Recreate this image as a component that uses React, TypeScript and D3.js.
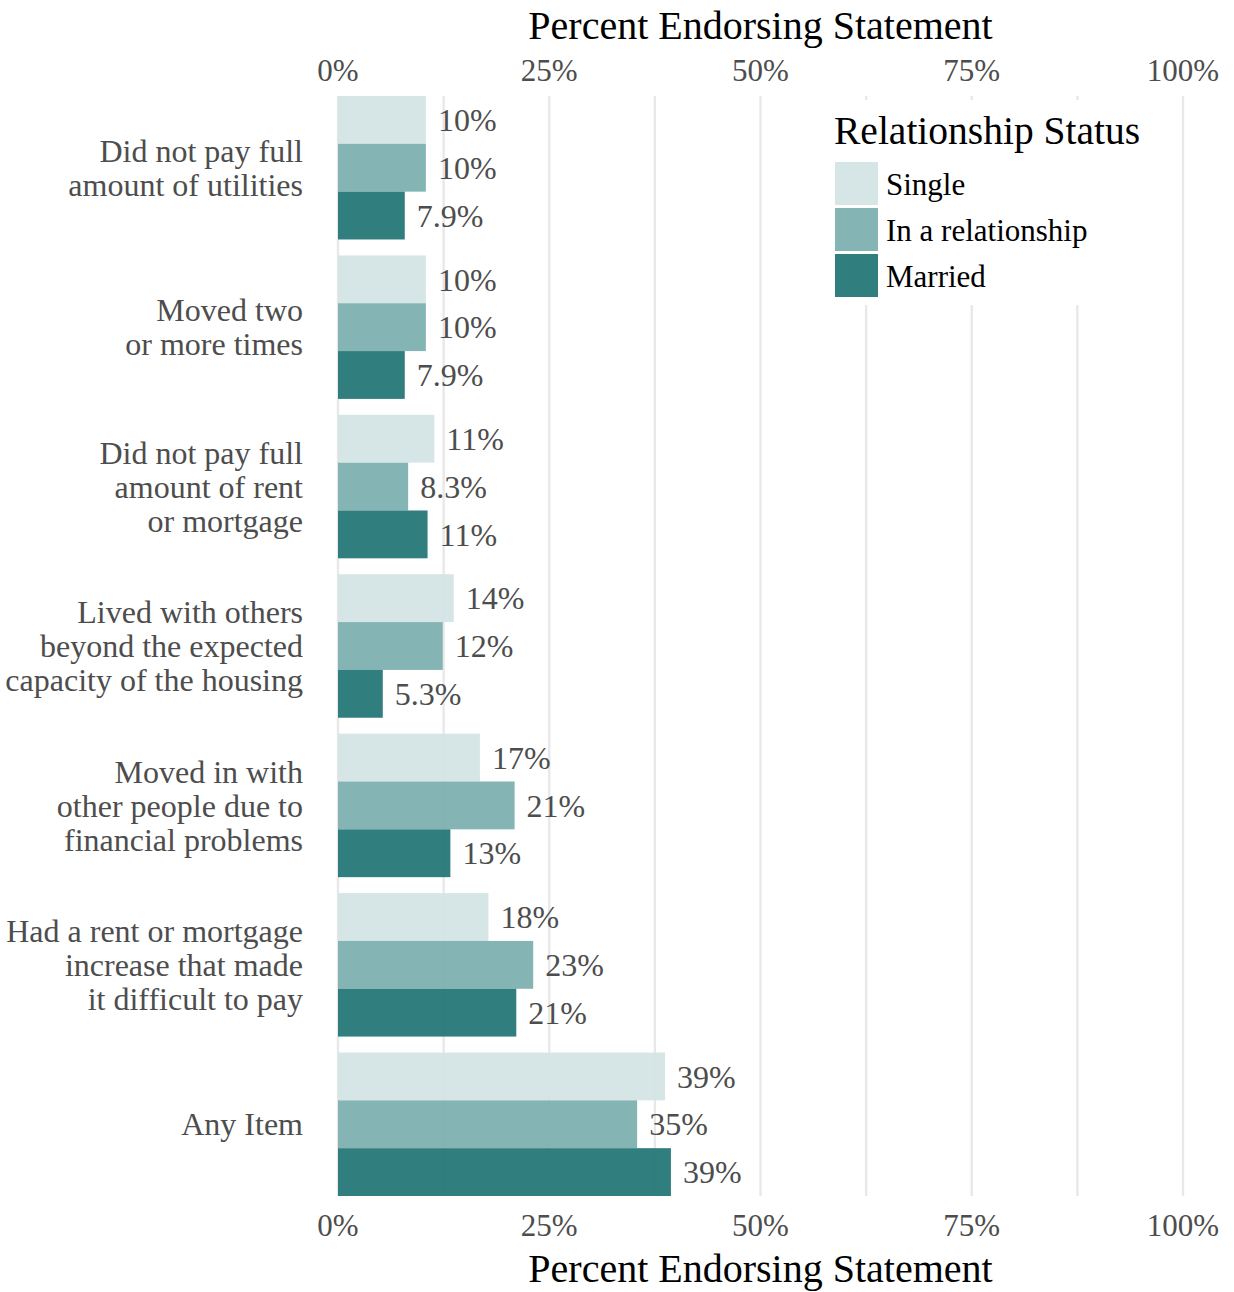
import React from "react";
import * as d3 from "d3";

const categories: string[][] = [
  ["Did not pay full", "amount of utilities"],
  ["Moved two", "or more times"],
  ["Did not pay full", "amount of rent", "or mortgage"],
  ["Lived with others", "beyond the expected", "capacity of the housing"],
  ["Moved in with", "other people due to", "financial problems"],
  ["Had a rent or mortgage", "increase that made", "it difficult to pay"],
  ["Any Item"],
];
const seriesNames = ["Single", "In a relationship", "Married"];
const singleValues = [10.4, 10.4, 11.4, 13.7, 16.8, 17.8, 38.7];
const relationshipValues = [10.4, 10.4, 8.3, 12.4, 20.9, 23.1, 35.4];
const marriedValues = [7.9, 7.9, 10.6, 5.3, 13.3, 21.1, 39.4];
const seriesValues = [singleValues, relationshipValues, marriedValues];
const colors = ["#d3e4e4", "#7aaeae", "#1f7374"];
const xTicks = [0, 25, 50, 75, 100];
const gridValues = [0, 12.5, 25, 37.5, 50, 62.5, 75, 87.5, 100];

const W = 1234;
const H = 1292;
const FONT = "'Liberation Serif', 'Times New Roman', serif";

export default function App() {
  const x = d3.scaleLinear().domain([0, 100]).range([338, 1183]);
  const y = d3
    .scaleBand<number>()
    .domain(d3.range(categories.length))
    .range([96, 1196])
    .paddingInner(0.1)
    .paddingOuter(0);
  const sub = d3
    .scaleBand<number>()
    .domain([0, 1, 2])
    .range([0, y.bandwidth()]);
  const fmt = (v: number) => d3.format(".2r")(v).replace(/\.0$/, "") + "%";
  const fmtTick = (v: number) => v + "%";
  const top = 96;
  const bottom = 1196;
  const lineH = 34;

  return (
    <svg width={W} height={H} style={{ display: "block", position: "absolute", left: 0, top: 0 }} fontFamily={FONT}>
      <rect x={0} y={0} width={W} height={H} fill="#ffffff" />
      {gridValues.map((g) => (
        <line key={g} x1={x(g)} x2={x(g)} y1={top} y2={bottom} stroke="#e8e8e8" strokeWidth={2.4} />
      ))}
      {categories.map((c, i) =>
        seriesValues.map((vals, s) => (
          <rect
            key={`${i}-${s}`}
            x={x(0)}
            y={(y(i) as number) + (sub(s) as number)}
            width={x(vals[i]) - x(0)}
            height={sub.bandwidth()}
            fill={colors[s]}
            fillOpacity={0.92}
          />
        ))
      )}
      {categories.map((c, i) =>
        seriesValues.map((vals, s) => (
          <text
            key={`l-${i}-${s}`}
            x={x(vals[i]) + 12}
            y={(y(i) as number) + (sub(s) as number) + sub.bandwidth() / 2}
            dy="0.35em"
            fontSize={32}
            fill="#4d4d4d"
          >
            {fmt(vals[i])}
          </text>
        ))
      )}
      {categories.map((lines, i) => {
        const cy = (y(i) as number) + y.bandwidth() / 2;
        const start = cy - ((lines.length - 1) * lineH) / 2;
        return (
          <text key={`c-${i}`} x={303} textAnchor="end" fontSize={32} fill="#4d4d4d">
            {lines.map((ln, k) => (
              <tspan key={k} x={303} y={start + k * lineH} dy="0.35em">
                {ln}
              </tspan>
            ))}
          </text>
        );
      })}
      {xTicks.map((t) => (
        <g key={`t-${t}`}>
          <text x={x(t)} y={70} dy="0.35em" textAnchor="middle" fontSize={31} fill="#4d4d4d">
            {fmtTick(t)}
          </text>
          <text x={x(t)} y={1225} dy="0.35em" textAnchor="middle" fontSize={31} fill="#4d4d4d">
            {fmtTick(t)}
          </text>
        </g>
      ))}
      <text x={x(50)} y={25} dy="0.35em" textAnchor="middle" fontSize={40} fill="#000">
        Percent Endorsing Statement
      </text>
      <text x={x(50)} y={1268} dy="0.35em" textAnchor="middle" fontSize={40} fill="#000">
        Percent Endorsing Statement
      </text>
      <g>
        <rect x={822} y={100} width={330} height={205} fill="#ffffff" />
        <text x={834} y={130} dy="0.35em" fontSize={39.5} fill="#000">
          Relationship Status
        </text>
        {seriesNames.map((n, s) => (
          <g key={n}>
            <rect x={835} y={162 + s * 46} width={43} height={43} fill={colors[s]} fillOpacity={0.92} />
            <text x={886} y={162 + s * 46 + 22} dy="0.35em" fontSize={31} fill="#000">
              {n}
            </text>
          </g>
        ))}
      </g>
    </svg>
  );
}
